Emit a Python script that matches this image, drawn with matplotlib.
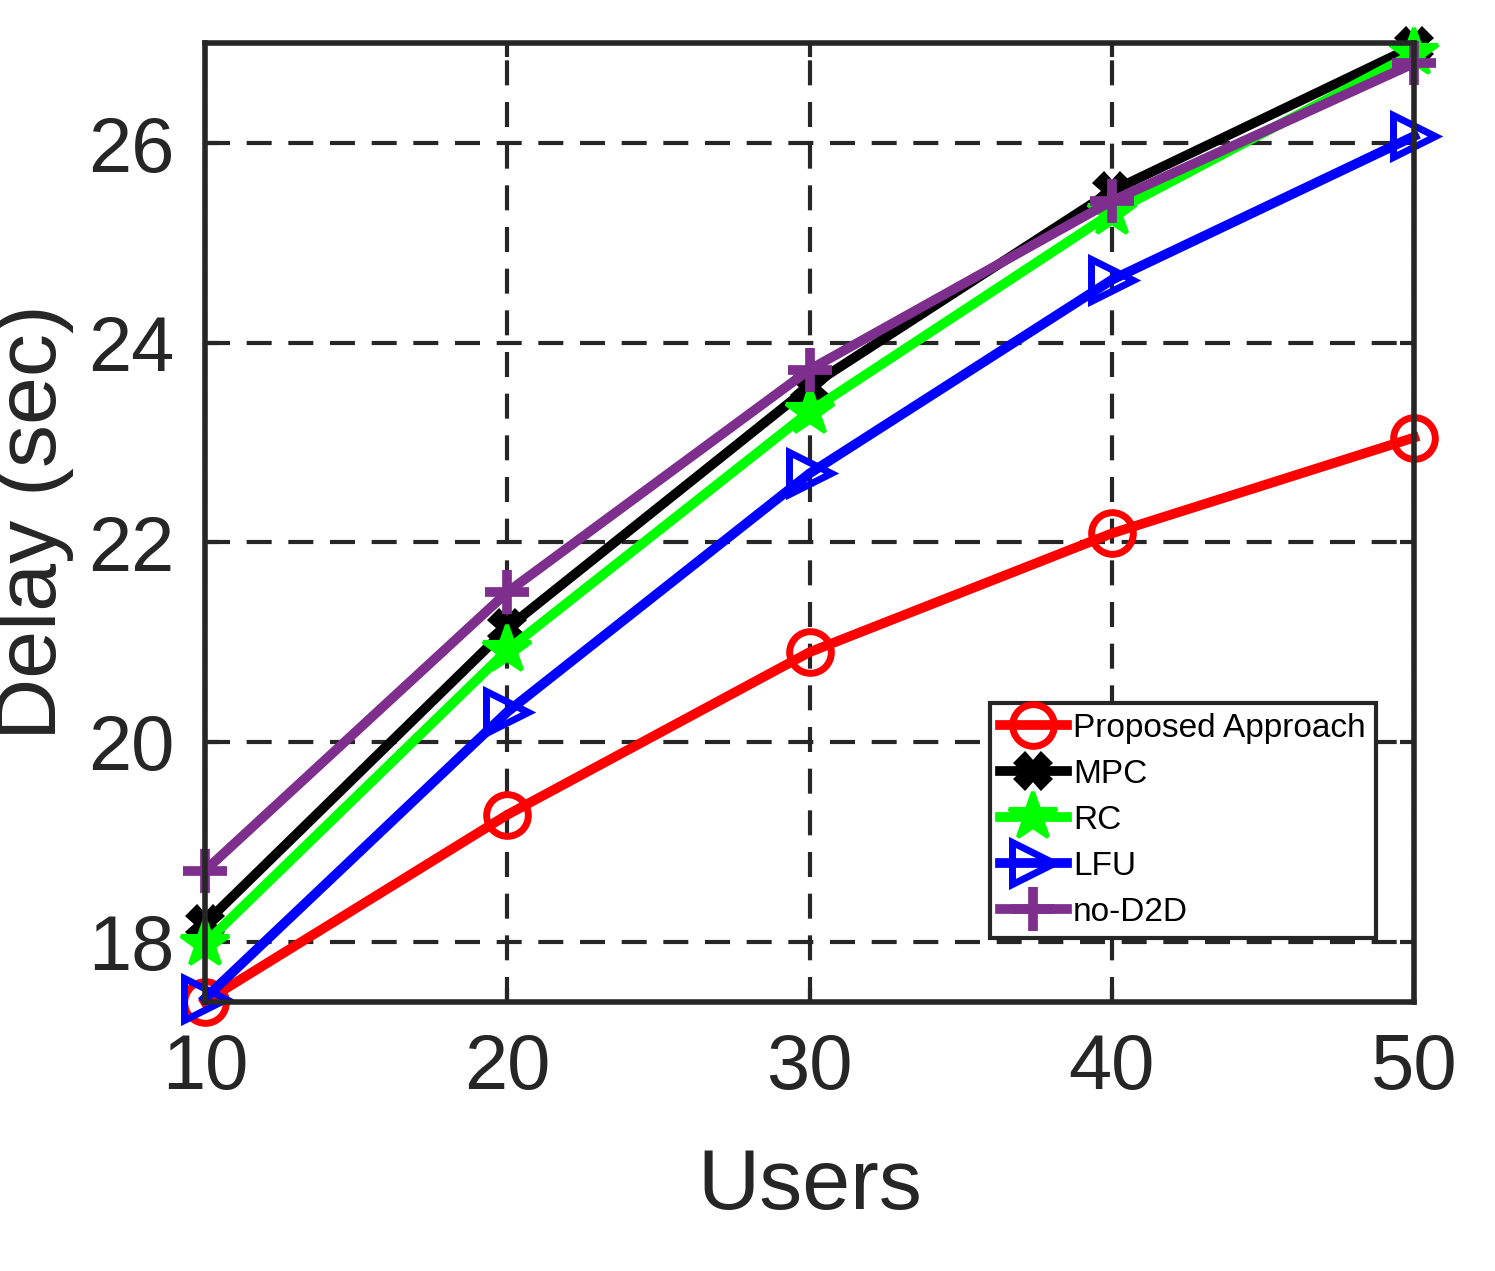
import matplotlib
matplotlib.use("Agg")
import matplotlib.pyplot as plt

users = [10, 20, 30, 40, 50]
proposed = [17.4, 19.27, 20.9, 22.09, 23.05]
mpc = [18.18, 21.14, 23.56, 25.52, 26.97]
rc = [17.98, 20.92, 23.31, 25.3, 26.9]
lfu = [17.43, 20.3, 22.69, 24.63, 26.07]
nod2d = [18.71, 21.5, 23.73, 25.42, 26.8]

plt.rcParams['font.family'] = ['Liberation Sans', 'DejaVu Sans']
fig = plt.figure(figsize=(14.95, 12.71), dpi=100)
ax = fig.add_axes([0.137, 0.212, 0.809, 0.754])

kw = dict(lw=7, ms=30, mew=5, fillstyle='none', clip_on=False)
ax.plot(users, proposed, color='#ff0000', marker='o', label='Proposed Approach', **kw)
ax.plot(users, mpc, color='black', marker='X', label='MPC', lw=7, ms=24, mew=3, clip_on=False)
ax.plot(users, rc, color='#00ff00', marker='*', label='RC', lw=7, ms=36, mew=3, clip_on=False)
ax.plot(users, lfu, color='#0000ff', marker='>', label='LFU', **kw)
ax.plot(users, nod2d, color='#7e2f8e', marker='+', label='no-D2D', lw=7, ms=32, mew=7, clip_on=False)

ax.set_xlim(10, 50)
ax.set_ylim(17.4, 27)
ax.set_xticks(users)
ax.set_yticks([18, 20, 22, 24, 26])
ax.tick_params(labelsize=56, width=3, length=10, direction='in', top=True, right=True, pad=22, colors='#262626')
ax.grid(True, ls=(0, (6, 4)), color='#262626', lw=3)
for s in ax.spines.values():
    s.set_linewidth(4); s.set_color('#262626')
ax.set_xlabel('Users', fontsize=62, color='#262626', labelpad=30)
ax.set_ylabel('Delay (sec)', fontsize=62, color='#262626', labelpad=10)
leg = ax.legend(loc='lower right', bbox_to_anchor=(0.982, 0.049), fontsize=24, frameon=True, fancybox=False,
                edgecolor='#262626', handlelength=2.0, handletextpad=0.2, borderpad=0.3, labelspacing=0.45,
                framealpha=1)
leg.get_frame().set_linewidth(3)
fig.savefig('out.png', dpi=100)
